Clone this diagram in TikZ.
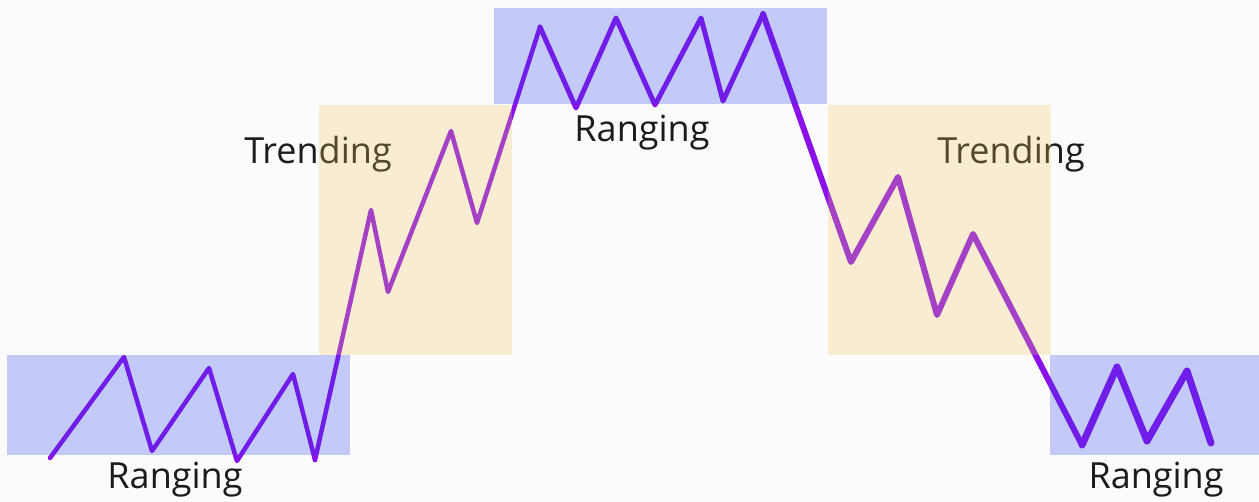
\documentclass[tikz,border=0pt]{standalone}
\usepackage{fontspec}
\setmainfont{Open Sans}
\usepackage{tikz}
\usetikzlibrary{positioning}
\definecolor{fondo}{HTML}{FBFBFB}
\definecolor{tinta}{HTML}{1C1C1C}
\definecolor{violeta}{HTML}{8A12E8}
\definecolor{azulz}{RGB}{40,62,238}
\definecolor{arena}{RGB}{242,200,100}
\tikzset{
  linea/.style={violeta,line join=round,line cap=round},
  rango/.style={fill=azulz,fill opacity=0.26},
  tendencia/.style={fill=arena,fill opacity=0.26},
  rotulo/.style={font=\fontsize{36}{42}\selectfont,text=tinta,anchor=base,inner sep=0pt},
}
\begin{document}
\begin{tikzpicture}[x=1pt,y=-1pt]
  \useasboundingbox (0,0) rectangle (1259,502);
  \fill[fondo] (0,0) rectangle (1259,502);
  % precio: tramos de la linea
  \draw[linea,line width=4.5pt] (50,458) -- (124,357) -- (152,451) -- (209,368) -- (237,461) -- (293,374) -- (315,460);
  \draw[linea,line width=4.5pt] (315,460) -- (371,210) -- (388,292) -- (451,131) -- (477,223) -- (540,27);
  \draw[linea,line width=5pt] (540,27) -- (576,108) -- (616,18) -- (655,105) -- (701,18) -- (723,101) -- (763,14);
  \draw[linea,line width=6pt] (763,14) -- (851,262) -- (898,177) -- (937,315) -- (973,234) -- (1082,445);
  \draw[linea,line width=7pt] (1082,445) -- (1117,367) -- (1147,441) -- (1187,371) -- (1211,443);
  % rotulos
  \node[rotulo] (r1) at (175,489) {Ranging};
  \node[rotulo] (t1) at (318,164) {Trending};
  \node[rotulo] (r2) at (642,142) {Ranging};
  \node[rotulo] (t2) at (1011,164) {Trending};
  \node[rotulo] (r3) at (1156,489) {Ranging};
  % zonas
  \fill[rango] (7,355) rectangle (350,455);
  \fill[tendencia] (319,105) rectangle (512,355);
  \fill[rango] (494,8) rectangle (827,104);
  \fill[tendencia] (828,105) rectangle (1051,355);
  \fill[rango] (1050,355) rectangle (1259,455);
\end{tikzpicture}
\end{document}
